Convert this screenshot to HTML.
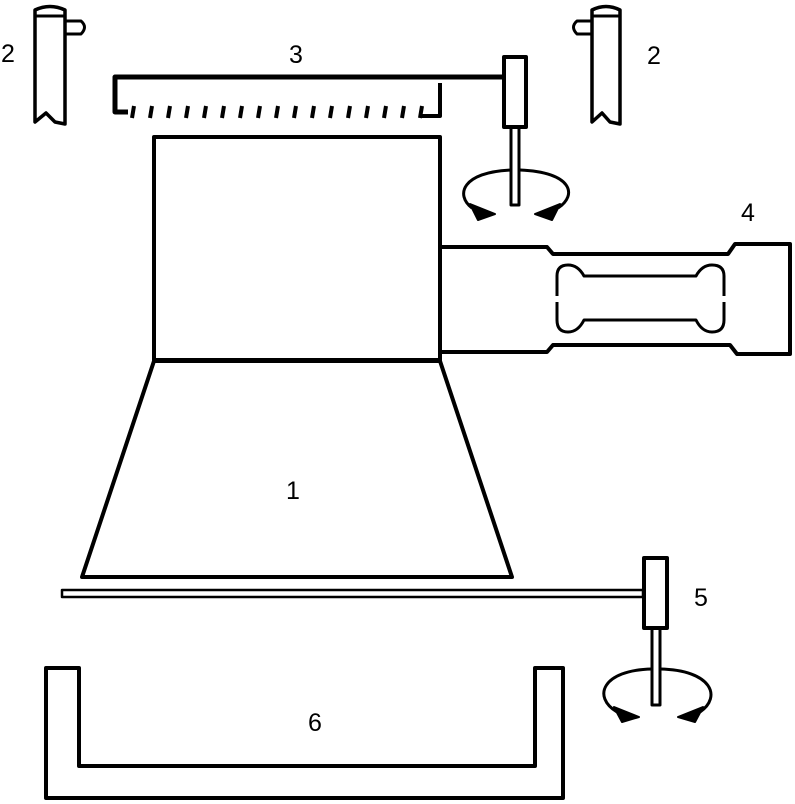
<!DOCTYPE html>
<html><head><style>body{margin:0;background:#fff}svg{display:block}text{font-family:"Liberation Sans",sans-serif;font-size:25px;fill:#000}</style></head><body>
<svg width="795" height="804" viewBox="0 0 795 804" fill="none" stroke="#000" stroke-width="4" stroke-linejoin="round">
<!-- 2 left -->
<path d="M35,122 V10 Q50,3 65,10 V124 Q60,123 55,122 L46,113 L35,122 Z" stroke-width="3.5"/>
<line x1="35" y1="16" x2="65" y2="16" stroke-width="3"/>
<path d="M65,21 H81 Q88,27 81,34 H65" stroke-width="3"/>
<!-- 2 right -->
<path d="M592,122 V10 Q606,3 620,10 V124 Q615,123 610,122 L602,113 L592,122 Z" stroke-width="3.5"/>
<line x1="592" y1="16" x2="620" y2="16" stroke-width="3"/>
<path d="M592,21 H577 Q570,27 577,34 H592" stroke-width="3"/>
<!-- frame 3 -->
<path d="M503,77 H115 V112 H128" stroke-width="5"/>
<path d="M440,83 V116 H421" stroke-width="4"/>
<g stroke-width="4">
<line x1="134" y1="106" x2="132" y2="118"/><line x1="152" y1="106" x2="150" y2="118"/><line x1="170" y1="106" x2="168" y2="118"/><line x1="188" y1="106" x2="186" y2="118"/><line x1="206" y1="106" x2="204" y2="118"/><line x1="224" y1="106" x2="222" y2="118"/><line x1="242" y1="106" x2="240" y2="118"/><line x1="260" y1="106" x2="258" y2="118"/><line x1="278" y1="106" x2="276" y2="118"/><line x1="296" y1="106" x2="294" y2="118"/><line x1="314" y1="106" x2="312" y2="118"/><line x1="332" y1="106" x2="330" y2="118"/><line x1="350" y1="106" x2="348" y2="118"/><line x1="368" y1="106" x2="366" y2="118"/><line x1="386" y1="106" x2="384" y2="118"/><line x1="404" y1="106" x2="402" y2="118"/><line x1="422" y1="106" x2="420" y2="118"/>
</g>
<!-- motor 3 -->
<rect x="504" y="57" width="22" height="70" stroke-width="4"/>
<rect x="511" y="127" width="8" height="78" stroke-width="3"/>
<path d="M472,208 C455,195 462,172 511,170 M520,170 C572,172 578,195 558,208" stroke-width="3"/>
<path d="M470,204 L495,214 L478,220 Z M560,204 L535,214 L552,220 Z" fill="#000" stroke-width="2"/>
<!-- box 1 -->
<rect x="154" y="137" width="286" height="223" stroke-width="4"/>
<path d="M154,361 H440 L512,577 H82 Z" stroke-width="4"/>
<!-- load cell 4 -->
<path d="M440,247 H547 L553,254 H728 L735,244 H790 V354 H737 L730,345 H553 L547,352 H440" stroke-width="4"/>
<path d="M557,296 V276 Q557,265 568,265 Q578,265 584,276 H696 Q702,265 712,265 Q724,265 724,276 V296 M557,302 V320 Q557,332 568,332 Q578,332 584,320 H696 Q702,332 712,332 Q724,332 724,320 V302" stroke-width="3"/>
<!-- rod 5 -->
<rect x="62" y="590" width="581" height="7" stroke-width="2.5"/>
<rect x="644" y="558" width="23" height="70" stroke-width="4"/>
<rect x="652" y="628" width="8" height="77" stroke-width="3"/>
<path d="M617,712 C592,697 602,670 652,669 M660,669 C712,670 722,697 700,712" stroke-width="3"/>
<path d="M614,707 L639,717 L622,722 Z M703,707 L678,717 L695,722 Z" fill="#000" stroke-width="2"/>
<!-- tray 6 -->
<path d="M46,668 H79 V766 H535 V668 H563 V798 H46 Z" stroke-width="4"/>
<g stroke="none">
<text x="1" y="62">2</text><text x="289" y="63">3</text><text x="647" y="64">2</text>
<text x="741" y="221">4</text><text x="694" y="606">5</text><text x="286" y="499">1</text><text x="308" y="731">6</text>
</g>
</svg>
</body></html>
